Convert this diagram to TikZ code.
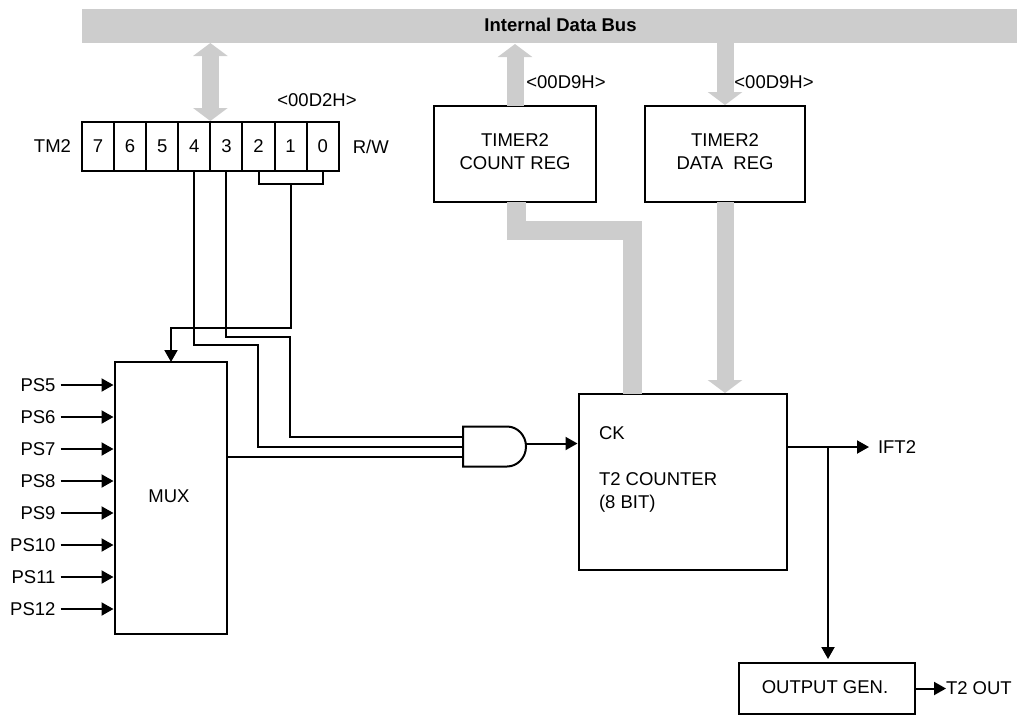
\documentclass[tikz,border=0pt]{standalone}
\usepackage{fontspec}
\setmainfont{Liberation Sans}
\usetikzlibrary{arrows.meta, positioning, calc}
\definecolor{busgray}{HTML}{CDCDCD}

\begin{document}
\begin{tikzpicture}[
  x=1pt, y=-1pt,
  font=\fontsize{18.5}{23}\selectfont,
  every node/.style={outer sep=0pt},
  block/.style={rectangle, draw, line width=2pt, align=center},
  bitcell/.style={block, minimum width=32.1pt, minimum height=49pt, inner sep=0pt},
  lbl/.style={inner sep=0pt, align=left},
  wire/.style={line width=2pt},
  arrow/.style={wire, -{Triangle[width=13pt,length=12pt]}},
  bus/.style={draw=busgray, line width=17pt},
  bigtip/.style={-{Triangle[width=34pt,length=13pt]}, shorten >=1pt},
  bothtip/.style={{Triangle[width=34pt,length=13pt]}-{Triangle[width=34pt,length=13pt]}, shorten >=1pt}
]
  \useasboundingbox (0,0) rectangle (1017,716);

  \node[fill=busgray, minimum width=935pt, minimum height=34pt, inner sep=0pt] (databus) at (549.5,26) {};
  \node[lbl, font=\fontsize{18.5}{23}\selectfont\bfseries] (buslabel) at (560.5,25) {Internal Data Bus};

  % TM2 register
  \node[bitcell] (b7) at (98,146.5) {7};
  \node[bitcell, right=0pt of b7] (b6) {6};
  \node[bitcell, right=0pt of b6] (b5) {5};
  \node[bitcell, right=0pt of b5] (b4) {4};
  \node[bitcell, right=0pt of b4] (b3) {3};
  \node[bitcell, right=0pt of b3] (b2) {2};
  \node[bitcell, right=0pt of b2] (b1) {1};
  \node[bitcell, right=0pt of b1] (b0) {0};
  \node[lbl, left=11pt of b7] (tmname) {TM2};
  \node[lbl, right=14pt of b0] (rw) {R/W};
  \node[lbl] (tmaddr) at (317,100) {<00D2H>};

  \node[block, minimum width=162pt, minimum height=96pt] (creg) at (515,154) {TIMER2\\COUNT REG\\[-18pt]};
  \node[block, minimum width=160pt, minimum height=96pt, right=49pt of creg] (dreg) {TIMER2\\DATA\ \ REG\\[-18pt]};
  \node[lbl] (caddr) at (566,82) {<00D9H>};
  \node[lbl] (daddr) at (774,82) {<00D9H>};

  \node[block, minimum width=112pt, minimum height=272pt] (mux) at (171,498) {};
  \node[lbl] (muxname) at (169,496) {MUX};

  \node[lbl, anchor=east] (ps5) at (55.5,385) {PS5};
  \node[lbl, anchor=east] (ps6) at (55.5,417) {PS6};
  \node[lbl, anchor=east] (ps7) at (55.5,449) {PS7};
  \node[lbl, anchor=east] (ps8) at (55.5,481) {PS8};
  \node[lbl, anchor=east] (ps9) at (55.5,513) {PS9};
  \node[lbl, anchor=east] (ps10) at (55.5,545) {PS10};
  \node[lbl, anchor=east] (ps11) at (55.5,577) {PS11};
  \node[lbl, anchor=east] (ps12) at (55.5,609) {PS12};

  % AND gate
  \node[minimum width=63pt, minimum height=40pt, inner sep=0pt] (andgate) at (494.5,446.5) {};
  \draw[wire] (andgate.north west) -- ++(44,0) arc[start angle=90, end angle=-90, x radius=19pt, y radius=20pt]
    -- (andgate.south west) -- cycle;

  \node[block, minimum width=208pt, minimum height=176pt] (cnt) at (683,482) {};
  \node[lbl, anchor=west] (cnttext) at (599,469.5) {CK\\ \\T2 COUNTER\\(8 BIT)};

  \node[block, minimum width=176pt, minimum height=51pt] (outgen) at (827,688.5) {};
  \node[lbl] (outname) at (825,687) {OUTPUT GEN.};
  \node[lbl, anchor=west] (ift2) at (878,447) {IFT2};
  \node[lbl, right=31pt of outgen] (t2out) {T2 OUT};

  % buses
  \draw[bus, bothtip, shorten <=0pt] (databus.south -| b4.east) -- (b4.north east);
  \draw[bus, bigtip] (creg.north) -- (creg.north |- databus.south);
  \draw[bus, bigtip] (databus.south -| dreg.north) -- (dreg.north);
  \draw[bus, bigtip] (dreg.south) -- (dreg.south |- cnt.north);
  \coordinate (cbend) at (632,230.5);
  \draw[bus, line width=19pt] ([xshift=1.5pt]creg.south) |- (cbend) -- (cbend |- cnt.north);

  % mode bits
  \coordinate (selbit) at ($(b2.south)!0.5!(b0.south)+(0,13)$);
  \draw[wire] (b2.south) -- ++(0,13) -| (b0.south);
  \draw[arrow] (selbit) -- ++(0,144) -| (mux.north);
  \draw[wire] (b3.south) |- (290,337) |- ([yshift=10pt]andgate.west);
  \draw[wire] (b4.south) |- (258,345) |- (andgate.west);
  \draw[wire] ([yshift=-10pt]andgate.west -| mux.east) -- ([yshift=-10pt]andgate.west);

  \draw[arrow, shorten >=1.5pt] (ps5.east) ++(5,0) -- (ps5.east -| mux.west);
  \draw[arrow, shorten >=1.5pt] (ps6.east) ++(5,0) -- (ps6.east -| mux.west);
  \draw[arrow, shorten >=1.5pt] (ps7.east) ++(5,0) -- (ps7.east -| mux.west);
  \draw[arrow, shorten >=1.5pt] (ps8.east) ++(5,0) -- (ps8.east -| mux.west);
  \draw[arrow, shorten >=1.5pt] (ps9.east) ++(5,0) -- (ps9.east -| mux.west);
  \draw[arrow, shorten >=1.5pt] (ps10.east) ++(5,0) -- (ps10.east -| mux.west);
  \draw[arrow, shorten >=1.5pt] (ps11.east) ++(5,0) -- (ps11.east -| mux.west);
  \draw[arrow, shorten >=1.5pt] (ps12.east) ++(5,0) -- (ps12.east -| mux.west);

  \coordinate (ckin) at ([yshift=3pt]andgate.east);
  \draw[arrow, shorten >=1.5pt] (ckin) -- (ckin -| cnt.west);
  \draw[arrow, shorten >=9pt] (ift2.west -| cnt.east) -- (ift2.west);
  \coordinate (tap) at (828,447);
  \draw[arrow, shorten >=4pt] (tap) -- (tap |- outgen.north);
  \draw[arrow] (outgen.east) -- (t2out.west);
\end{tikzpicture}
\end{document}
